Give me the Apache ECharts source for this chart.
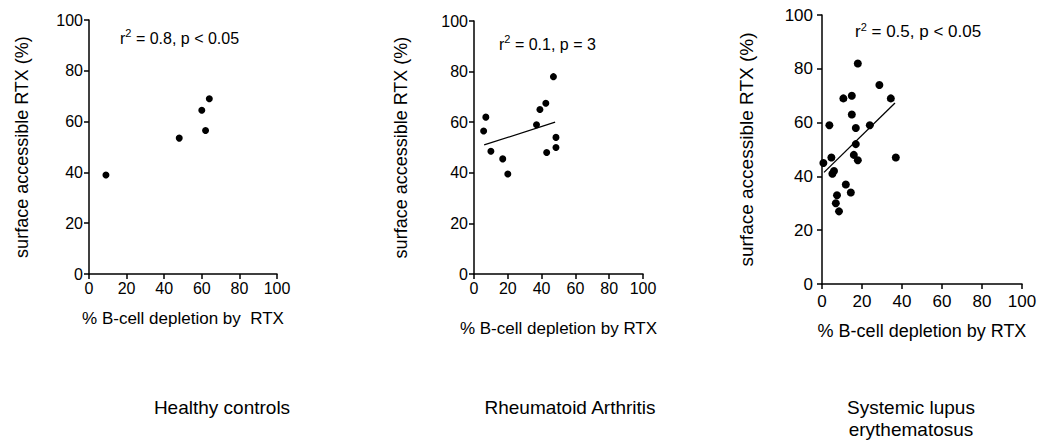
<!DOCTYPE html>
<html>
<head>
<meta charset="utf-8">
<script src="https://cdn.jsdelivr.net/npm/echarts@6/dist/echarts.min.js"></script>
<style>
html,body{margin:0;padding:0;background:#fff;}
#chart{width:1049px;height:443px;}
</style>
</head>
<body>
<div id="chart"></div>
<script>
// ---- data ----
var panelTitles = ['Healthy controls', 'Rheumatoid Arthritis', 'Systemic lupus\nerythematosus'];
var statR2 = ['0.8', '0.1', '0.5'];
var statP = ['p < 0.05', 'p = 3', 'p < 0.05'];
var xAxisNames = ['% B-cell depletion by  RTX', '% B-cell depletion by RTX', '% B-cell depletion by RTX'];
var yAxisName = 'surface accessible RTX (%)';

var hcX = [9, 48, 60, 62, 64];
var hcY = [39, 53.5, 64.5, 56.5, 69];

var raX = [5.7, 7, 10, 17, 20, 37, 39, 42.5, 43, 47, 48.5, 48.5];
var raY = [56.5, 62, 48.5, 45.5, 39.5, 59, 65, 67.5, 48, 78, 54, 50];
var raFitX = [6, 48];
var raFitY = [51, 60];

var sleX = [0.7, 3.7, 4.7, 5.2, 6, 6.9, 7.5, 8.5, 10.7, 11.9, 14.4, 14.9, 14.9, 15.9, 16.9, 16.9, 17.9, 17.9, 23.9, 28.7, 34.4, 36.9];
var sleY = [45, 59, 47, 41, 42, 30, 33, 27, 69, 37, 34, 70, 63, 48, 58, 52, 46, 82, 59, 74, 69, 47];
var sleFitX = [1, 36.5];
var sleFitY = [41.5, 67.3];

function zip(a, b) { return a.map(function (v, i) { return [v, b[i]]; }); }

var FONT = 'Liberation Sans, Arial, Helvetica, sans-serif';
var grids = [
  { left: 89, top: 20, width: 188, height: 254 },
  { left: 474, top: 21, width: 169, height: 253 },
  { left: 822, top: 15, width: 200, height: 269 }
];
var yNameGap = [58, 64, 66];
var xNameGap = [36, 46, 38];
var tickFont = [16, 16, 17];
var tickMargin = [6, 6, 9];
var nameFont = [17, 17, 18];

var xAxes = [], yAxes = [];
grids.forEach(function (g, i) {
  var axisCommon = {
    gridIndex: i, type: 'value', min: 0, max: 100, interval: 20,
    axisLine: { show: true, onZero: false, lineStyle: { color: '#000', width: 1.5 } },
    axisTick: { show: true, length: 5, lineStyle: { color: '#000', width: 1.5 } },
    axisLabel: { color: '#000', fontSize: tickFont[i], fontFamily: FONT, margin: tickMargin[i] },
    splitLine: { show: false },
    nameLocation: 'middle',
    nameTextStyle: { color: '#000', fontSize: nameFont[i], fontFamily: FONT }
  };
  xAxes.push(Object.assign({}, axisCommon, { name: xAxisNames[i], nameGap: xNameGap[i] }));
  yAxes.push(Object.assign({}, axisCommon, { name: yAxisName, nameGap: yNameGap[i],
    nameTextStyle: { color: '#000', fontSize: nameFont[i] + 1, fontFamily: FONT } }));
});

var dotStyle = { color: '#000', opacity: 1 };
var series = [
  { type: 'scatter', xAxisIndex: 0, yAxisIndex: 0, data: zip(hcX, hcY), symbolSize: 7, itemStyle: dotStyle, silent: true },
  { type: 'scatter', xAxisIndex: 1, yAxisIndex: 1, data: zip(raX, raY), symbolSize: 7, itemStyle: dotStyle, silent: true },
  { type: 'line', xAxisIndex: 1, yAxisIndex: 1, data: zip(raFitX, raFitY), symbol: 'none', lineStyle: { color: '#000', width: 1.3 }, silent: true },
  { type: 'scatter', xAxisIndex: 2, yAxisIndex: 2, data: zip(sleX, sleY), symbolSize: 8, itemStyle: dotStyle, silent: true },
  { type: 'line', xAxisIndex: 2, yAxisIndex: 2, data: zip(sleFitX, sleFitY), symbol: 'none', lineStyle: { color: '#000', width: 1.3 }, silent: true }
];

var statPos = [[120, 27], [499, 33], [855, 21]];
var statFont = [16, 16, 17];
var titlePos = [[222, 396], [570, 396], [911, 396]];
var titles = [];
statR2.forEach(function (r, i) {
  titles.push({
    left: statPos[i][0], top: statPos[i][1],
    text: '{n|r}{s|2}{n| = ' + r + ', ' + statP[i] + '}',
    textStyle: {
      fontWeight: 'normal',
      rich: {
        n: { fontSize: statFont[i], fontWeight: 'normal', fontFamily: FONT, color: '#000', verticalAlign: 'bottom', lineHeight: 19 },
        s: { fontSize: 11, fontWeight: 'normal', fontFamily: FONT, color: '#000', verticalAlign: 'top', lineHeight: 19 }
      }
    },
    padding: 0
  });
});
panelTitles.forEach(function (t, i) {
  titles.push({
    left: titlePos[i][0], top: titlePos[i][1], textAlign: 'center',
    text: t,
    textStyle: { fontSize: 19, fontWeight: 'normal', fontFamily: FONT, color: '#000', lineHeight: 22 },
    padding: 0
  });
});

var chart = echarts.init(document.getElementById('chart'), null, { renderer: 'svg' });
chart.setOption({
  animation: false,
  backgroundColor: '#fff',
  title: titles,
  grid: grids,
  xAxis: xAxes,
  yAxis: yAxes,
  series: series
});
</script>
</body>
</html>
